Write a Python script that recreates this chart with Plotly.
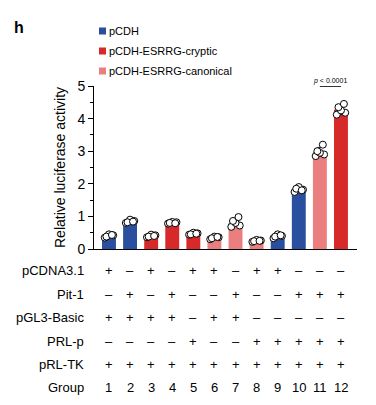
import plotly.graph_objects as go

groups = [1, 2, 3, 4, 5, 6, 7, 8, 9, 10, 11, 12]
series_names = ["pCDH", "pCDH-ESRRG-cryptic", "pCDH-ESRRG-canonical"]
group_series = [0, 0, 1, 1, 1, 2, 2, 2, 0, 0, 2, 1]
replicates = [
    [0.35, 0.42, 0.45, 0.38, 0.43],
    [0.80, 0.86, 0.90, 0.82, 0.84],
    [0.36, 0.42, 0.44, 0.38, 0.40],
    [0.78, 0.82, 0.83, 0.80, 0.79],
    [0.44, 0.48, 0.50, 0.45, 0.47],
    [0.30, 0.36, 0.38, 0.33, 0.37],
    [0.68, 0.72, 0.80, 0.86, 0.98],
    [0.22, 0.26, 0.28, 0.24, 0.25],
    [0.33, 0.40, 0.45, 0.38, 0.42],
    [1.75, 1.82, 1.90, 1.85, 1.80],
    [2.85, 2.90, 2.95, 3.00, 3.20],
    [4.12, 4.18, 4.25, 4.35, 4.45],
]
row_labels = ["pCDNA3.1", "Pit-1", "pGL3-Basic", "PRL-p", "pRL-TK"]
row_signs = [
    "+-+-++-++---",
    "-+-+--+--+++",
    "++++-++-----",
    "----+--+++++",
    "++++++++++++",
]
p_text = "<i>p</i> < 0.0001"

colors = ["#2A4F9F", "#D7292A", "#EB7F80"]
FONT = "Arial, Liberation Sans, sans-serif"

means = [sum(r) / len(r) for r in replicates]
sds = [(sum((v - m) ** 2 for v in r) / (len(r) - 1)) ** 0.5 for r, m in zip(replicates, means)]

fig = go.Figure()
for s, name in enumerate(series_names):
    idx = [i for i, g in enumerate(group_series) if g == s]
    fig.add_trace(go.Bar(
        x=[groups[i] for i in idx], y=[means[i] for i in idx],
        width=0.66, marker=dict(color=colors[s], line=dict(width=0)),
        error_y=dict(type="data", array=[sds[i] for i in idx], color="black",
                     thickness=0.8, width=3),
        name=name, showlegend=False,
    ))

offsets = [-0.2, 0.2, 0.0, -0.12, 0.14]
px, py = [], []
for g, r in zip(groups, replicates):
    for k, v in enumerate(r):
        px.append(g + offsets[k % len(offsets)])
        py.append(v)
fig.add_trace(go.Scatter(
    x=px, y=py, mode="markers", showlegend=False, cliponaxis=False,
    marker=dict(size=7, color="white", line=dict(color="black", width=1)),
))

# page has an 8px body margin; work in reference pixel coords and shift
OFF = 8
W, H = 376 - OFF, 405 - OFF
L, R, T, B = 94 - OFF, 19 - OFF, 86 - OFF, 156 + OFF - OFF - OFF
# plot area in reference pixels: x 94..357, y 86..249
pw = 357 - 94
ph = 249 - 86
L = 94 - OFF
T = 86 - OFF
R = W - L - pw
B = H - T - ph


def xp(p):
    return (p - 94) / pw


def yp(p):
    return (249 - p) / ph


annotations = []
shapes = []
annotations.append(dict(text="<b>h</b>", x=xp(12), y=yp(27), xref="paper", yref="paper",
                        xanchor="left", yanchor="middle", showarrow=False,
                        font=dict(size=16, color="black", family=FONT)))
for s, name in enumerate(series_names):
    cy = 31 + 20 * s
    shapes.append(dict(type="rect", xref="paper", yref="paper",
                       x0=xp(99), x1=xp(106), y0=yp(cy + 3.5), y1=yp(cy - 3.5),
                       fillcolor=colors[s], line=dict(width=0)))
    annotations.append(dict(text=name, x=xp(106.5), y=yp(cy), xref="paper", yref="paper",
                            xanchor="left", yanchor="middle", showarrow=False,
                            font=dict(size=11, color="black", family=FONT)))
annotations.append(dict(text=p_text, x=11.5, y=yp(81), xref="x", yref="paper",
                        xanchor="center", yanchor="middle", showarrow=False,
                        font=dict(size=7, color="black", family=FONT)))
shapes.append(dict(type="line", xref="x", yref="paper", x0=11, x1=12,
                   y0=yp(86.5), y1=yp(86.5), line=dict(color="black", width=0.8)))
row_px = [270, 294, 317, 341, 364]
for lab, signs, rp in zip(row_labels, row_signs, row_px):
    annotations.append(dict(text=lab, x=xp(86), y=yp(rp), xref="paper", yref="paper",
                            xanchor="right", yanchor="middle", showarrow=False,
                            font=dict(size=13, color="black", family=FONT)))
    for g, ch in zip(groups, signs):
        annotations.append(dict(text="+" if ch == "+" else "\u2013", x=g, y=yp(rp),
                                xref="x", yref="paper", xanchor="center", yanchor="middle",
                                showarrow=False, font=dict(size=13, color="black", family=FONT)))
annotations.append(dict(text="Group", x=xp(86), y=yp(387), xref="paper", yref="paper",
                        xanchor="right", yanchor="middle", showarrow=False,
                        font=dict(size=13, color="black", family=FONT)))
for g in groups:
    annotations.append(dict(text=str(g), x=g, y=yp(387), xref="x", yref="paper",
                            xanchor="center", yanchor="middle", showarrow=False,
                            font=dict(size=13, color="black", family=FONT)))

fig.update_layout(
    width=W, height=H, margin=dict(l=L, r=R, t=T, b=B, autoexpand=False),
    paper_bgcolor="white", plot_bgcolor="white",
    barmode="overlay", showlegend=False,
    annotations=annotations, shapes=shapes,
    font=dict(family=FONT, color="black"),
    xaxis=dict(range=[0.29, 12.76], showticklabels=False, ticks="", showgrid=False,
               zeroline=False, showline=True, linecolor="black", linewidth=1, fixedrange=True),
    yaxis=dict(range=[0, 5], tickvals=[0, 1, 2, 3, 4, 5], ticks="outside", ticklen=5,
               tickwidth=1, tickcolor="black", showgrid=False, zeroline=False,
               showline=True, linecolor="black", linewidth=1,
               tickfont=dict(size=14, family=FONT, color="black"),
               minor=dict(tickvals=[0.5, 1.5, 2.5, 3.5, 4.5], ticks="outside", ticklen=3,
                          tickcolor="black", tickwidth=1),
               title=dict(text="Relative luciferase activity", standoff=8,
                          font=dict(size=14, family=FONT, color="black"))),
)

fig.write_html("out.html")
